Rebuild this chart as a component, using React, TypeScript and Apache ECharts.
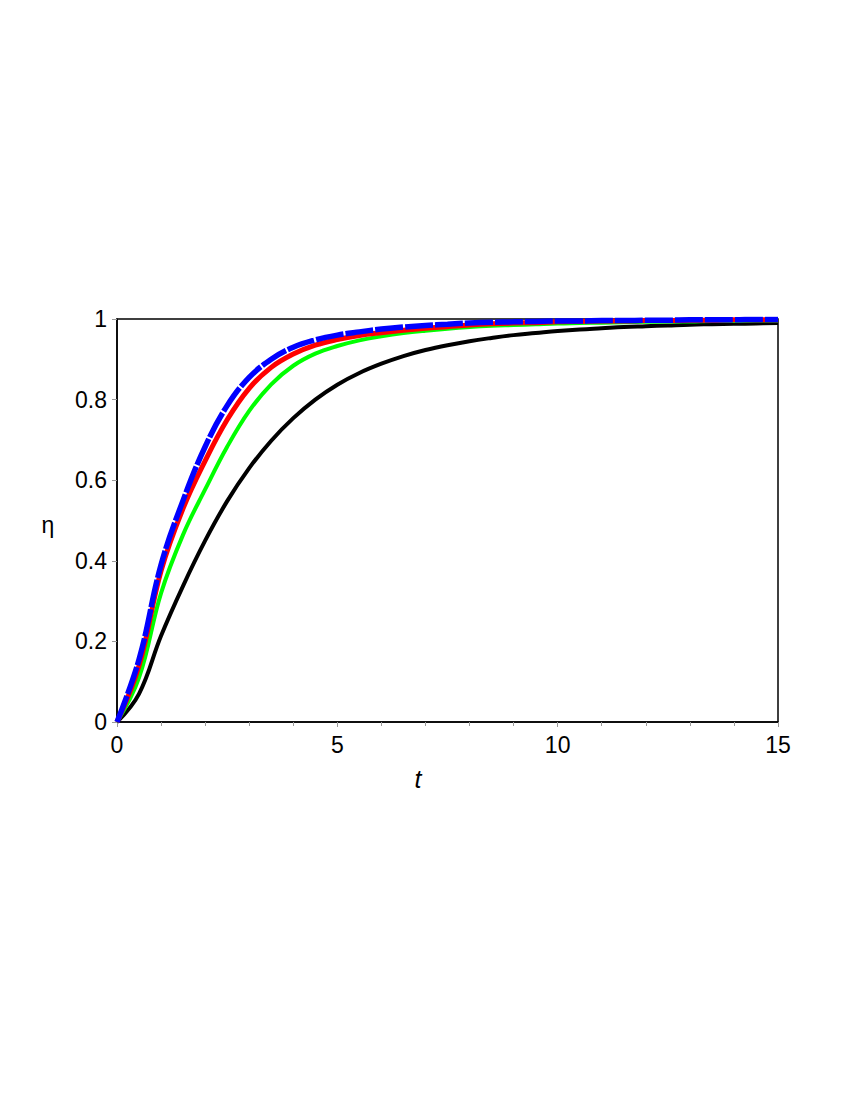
import React, { useEffect, useRef } from "react";
import * as echarts from "echarts";

const tValues = [0, 0.5, 1, 1.5, 2, 2.5, 3, 3.5, 4, 4.5, 5, 5.5, 6, 6.5, 7, 7.5, 8, 8.5, 9, 9.5, 10, 10.5, 11, 11.5, 12, 12.5, 13, 13.5, 14, 14.5, 15];
const blueEta = [0, 0.155, 0.39, 0.55, 0.683, 0.785, 0.855, 0.9, 0.93, 0.948, 0.96, 0.968, 0.975, 0.98, 0.984, 0.987, 0.99, 0.992, 0.993, 0.994, 0.995, 0.995, 0.996, 0.996, 0.997, 0.997, 0.998, 0.998, 0.998, 0.999, 0.999];
const redEta = [0, 0.14, 0.375, 0.53, 0.648, 0.75, 0.828, 0.88, 0.913, 0.935, 0.949, 0.959, 0.966, 0.972, 0.977, 0.981, 0.985, 0.988, 0.99, 0.991, 0.993, 0.994, 0.995, 0.995, 0.996, 0.996, 0.997, 0.997, 0.998, 0.998, 0.998];
const greenEta = [0, 0.11, 0.32, 0.465, 0.577, 0.683, 0.772, 0.838, 0.884, 0.914, 0.933, 0.947, 0.957, 0.965, 0.971, 0.976, 0.98, 0.983, 0.985, 0.987, 0.989, 0.99, 0.991, 0.992, 0.993, 0.994, 0.994, 0.995, 0.995, 0.996, 0.996];
const blackEta = [0, 0.07, 0.214, 0.338, 0.45, 0.548, 0.63, 0.698, 0.754, 0.8, 0.837, 0.866, 0.889, 0.908, 0.923, 0.935, 0.945, 0.953, 0.96, 0.965, 0.97, 0.974, 0.977, 0.98, 0.982, 0.984, 0.986, 0.987, 0.988, 0.989, 0.99];
const xTicks = [0, 5, 10, 15];
const yTicks = [0, 0.2, 0.4, 0.6, 0.8, 1];

const pairs = (ys: number[]) => tValues.map((t, i) => [t, ys[i]]);

export default function App() {
  const ref = useRef<HTMLDivElement>(null);
  useEffect(() => {
    if (!ref.current) return;
    const chart = echarts.init(ref.current, null, { renderer: "svg" });
    const font = "'Liberation Sans', Arial, sans-serif";
    const line = (name: string, color: string, width: number, data: number[], type: any = "solid", z = 2) => ({
      name,
      type: "line",
      data: pairs(data),
      showSymbol: false,
      smooth: 0.4,
      z,
      lineStyle: { color, width, type, cap: "butt" },
    });
    chart.setOption({
      animation: false,
      backgroundColor: "#fff",
      grid: {
        left: 117,
        right: 72,
        top: 319,
        bottom: 378,
        show: true,
        borderColor: "#000",
        borderWidth: 1.5,
        backgroundColor: "transparent",
      },
      xAxis: {
        type: "value",
        min: xTicks[0],
        max: xTicks[xTicks.length - 1],
        interval: 5,
        axisLine: { show: true, lineStyle: { color: "#000", width: 1.5 } },
        axisTick: { show: true, length: 5, lineStyle: { color: "#999" } },
        minorTick: { show: true, splitNumber: 5, length: 4, lineStyle: { color: "#999" } },
        splitLine: { show: false },
        axisLabel: { color: "#000", fontSize: 23, fontFamily: font, margin: 11 },
      },
      yAxis: {
        type: "value",
        min: yTicks[0],
        max: yTicks[yTicks.length - 1],
        interval: 0.2,
        axisLine: { show: true, lineStyle: { color: "#000", width: 1.5 } },
        axisTick: { show: true, length: 5, lineStyle: { color: "#999" } },
        splitLine: { show: false },
        axisLabel: { color: "#000", fontSize: 23, fontFamily: font, margin: 10 },
      },
      graphic: [
        {
          type: "text",
          x: 48,
          y: 525,
          style: { text: "η", fontSize: 23, fontFamily: font, fill: "#000", textAlign: "center", textVerticalAlign: "middle" },
        },
        {
          type: "text",
          x: 418,
          y: 779,
          style: { text: "t", fontSize: 25, fontStyle: "italic", fontFamily: font, fill: "#000", textAlign: "center", textVerticalAlign: "middle" },
        },
      ],
      series: [
        line("black", "#000000", 4, blackEta, "solid", 2),
        line("green", "#00ff00", 4, greenEta, "solid", 3),
        line("red", "#ff0000", 5, redEta, "solid", 4),
        line("blue", "#0000ff", 5.5, blueEta, [28, 2], 5),
      ],
    });
    return () => chart.dispose();
  }, []);
  return <div ref={ref} style={{ position: "absolute", left: 0, top: 0, width: 850, height: 1100 }} />;
}
